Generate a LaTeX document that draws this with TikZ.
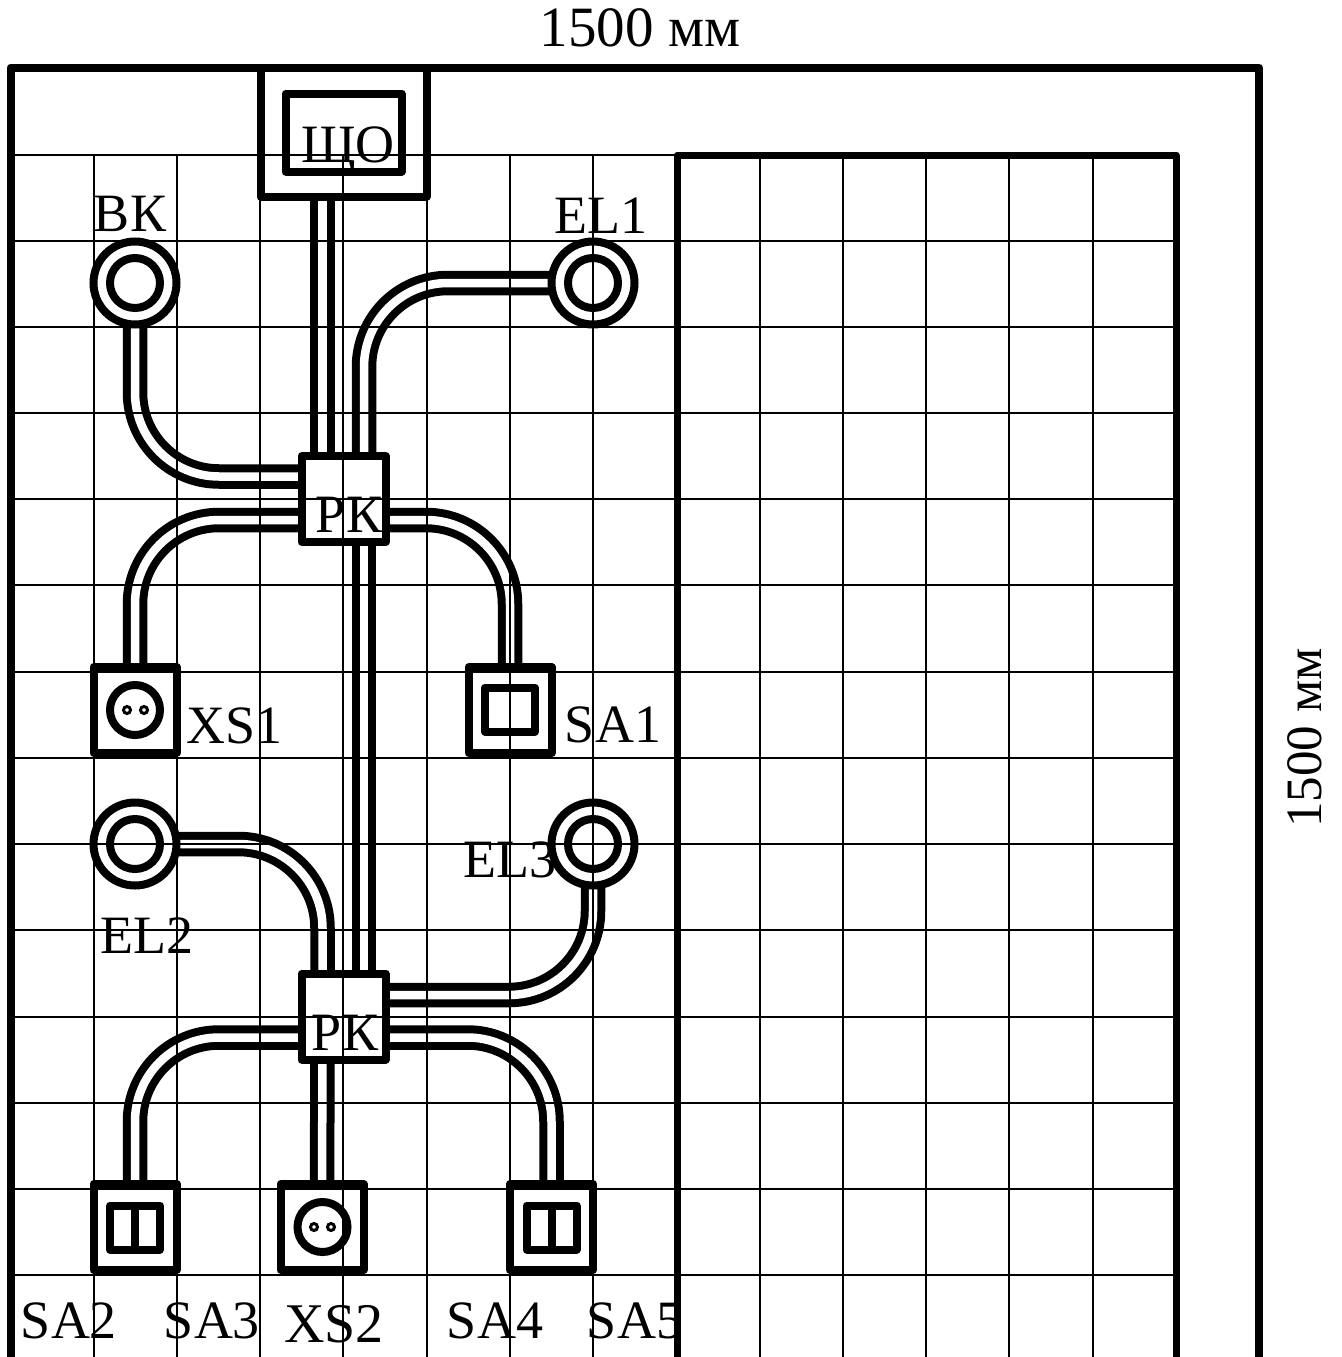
\documentclass[tikz,border=0pt]{standalone}
\usepackage{fontspec}
\usetikzlibrary{backgrounds}
\setmainfont{Liberation Serif}
\tikzset{
	wall/.style={line width=8pt,line join=round},
	cell/.style={line width=1.6pt},
	device/.style={shape=rectangle,draw,line width=8pt,line join=round,inner sep=0pt,outer sep=0pt},
	roundbox/.style={shape=circle,draw,line width=8pt,inner sep=0pt,outer sep=0pt},
	hole/.style={shape=circle,draw,line width=3pt,inner sep=0pt,minimum size=7pt},
	cable/.style={draw,line width=8pt,double=white,double distance=8.5pt,rounded corners=84pt},
	tag/.style={anchor=base,inner sep=0pt,font=\fontsize{54}{60}\selectfont},
}
\begin{document}
\begin{tikzpicture}[x=1pt,y=-1pt]
	\useasboundingbox (0,0) rectangle (1341,1357);

	\draw[wall] (10.5,1357) -- (10.5,67.5) -- (1259,67.5) -- (1259,1357);
	\draw[wall,line width=7pt] (677,1357) -- (677,155) -- (1176,155) -- (1176,1357);

	\node[device,minimum width=166pt,minimum height=129pt] (shcho) at (343.5,132) {};
	\node[device,minimum width=116pt,minimum height=78pt] (shchoin) at (343.5,132.5) {};
	\node[device,minimum width=84pt,minimum height=86pt] (pkone) at (343.5,499) {};
	\node[device,minimum width=84pt,minimum height=86pt] (pktwo) at (343.5,1016.5) {};

	\node[roundbox,minimum size=83pt] (vk) at (135,283) {};
	\node[roundbox,minimum size=50pt] (vkin) at (135,283) {};
	\node[roundbox,minimum size=83pt] (elone) at (593,283) {};
	\node[roundbox,minimum size=50pt] (eloneone) at (593,283) {};
	\node[roundbox,minimum size=83pt] (eltwo) at (135,844) {};
	\node[roundbox,minimum size=50pt] (eltwoin) at (135,844) {};
	\node[roundbox,minimum size=83pt] (elthree) at (593,844) {};
	\node[roundbox,minimum size=50pt] (elthreein) at (593,844) {};

	\node[device,minimum width=83pt,minimum height=86pt] (xsone) at (135,710) {};
	\node[roundbox,minimum size=50pt] (xsonein) at (135,710) {};
	\node[hole] (xsonea) at (127,710) {};
	\node[hole] (xsoneb) at (144,710) {};

	\node[device,minimum width=83pt,minimum height=86pt] (saone) at (510,710) {};
	\node[device,minimum width=50pt,minimum height=44pt] (saonein) at (510,709.5) {};

	\node[device,minimum width=83pt,minimum height=86pt] (satwo) at (135,1227) {};
	\node[device,minimum width=25pt,minimum height=44pt] (satwoa) at (122.5,1227.5) {};
	\node[device,minimum width=25pt,minimum height=44pt] (satwob) at (147.5,1227.5) {};

	\node[device,minimum width=83pt,minimum height=86pt] (xstwo) at (322,1227) {};
	\node[roundbox,minimum size=50pt] (xstwoin) at (322.5,1227) {};
	\node[hole] (xstwoa) at (314,1227) {};
	\node[hole] (xstwob) at (331,1227) {};

	\node[device,minimum width=83pt,minimum height=86pt] (safour) at (551.5,1227) {};
	\node[device,minimum width=25pt,minimum height=44pt] (safoura) at (539,1227.5) {};
	\node[device,minimum width=25pt,minimum height=44pt] (safourb) at (564,1227.5) {};

	\begin{scope}[on background layer]
		\draw[cable] ([xshift=-21pt]shcho.south) -- ([xshift=-21pt]pkone.north);
		\draw[cable] (vk.south) |- ([yshift=22.5pt]pkone.west);
		\draw[cable] (elone.west) -| ([xshift=20.5pt]pkone.north);
		\draw[cable] ([yshift=-21pt]pkone.west) -| (xsone.north);
		\draw[cable] ([yshift=-21pt]pkone.east) -| (saone.north);
		\draw[cable] ([xshift=20.5pt]pkone.south) -- ([xshift=20.5pt]pktwo.north);
		\draw[cable] (eltwo.east) -| ([xshift=-21pt]pktwo.north);
		\draw[cable] (elthree.south) |- ([yshift=21.5pt]pktwo.east);
		\draw[cable] ([yshift=-21pt]pktwo.west) -| (satwo.north);
		\draw[cable] ([yshift=-21pt]pktwo.east) -| (safour.north);
		\draw[cable] ([xshift=-21pt]pktwo.south) -- (xstwo.north);
	\end{scope}

	\foreach \rowy in {155,241,327,413,499,585,672,758,844,930,1017,1103,1189,1275}
		\draw[cell] (14,\rowy) -- (1173,\rowy);
	\foreach \colx in {94,177,260,343,427,510,593,760,843,926,1009,1093}
		\draw[cell] (\colx,155) -- (\colx,1357);

	\node[tag] (lshcho) at (348,162) {ЩО};
	\node[tag] (lvk) at (130,231) {ВК};
	\node[tag] (lelone) at (601,233) {EL1};
	\node[tag] (lpkone) at (349,532) {РК};
	\node[tag] (lxsone) at (235,743) {XS1};
	\node[tag] (lsaone) at (613,742) {SA1};
	\node[tag] (lelthree) at (510,877) {EL3};
	\node[tag] (leltwo) at (147,953) {EL2};
	\node[tag] (lpktwo) at (345,1050) {РК};
	\node[tag] (lsatwo) at (69,1338) {SA2};
	\node[tag] (lsathree) at (212,1338) {SA3};
	\node[tag,font=\fontsize{56}{60}\selectfont] (lxstwo) at (334,1342) {XS2};
	\node[tag] (lsafour) at (495,1338) {SA4};
	\node[tag] (lsafive) at (635,1338) {SA5};
	\node[tag,font=\fontsize{57}{60}\selectfont] (ltop) at (640,46) {1500 мм};
	\node[tag,rotate=90,font=\fontsize{51}{60}\selectfont] (lright) at (1321,738) {1500 мм};
\end{tikzpicture}
\end{document}
